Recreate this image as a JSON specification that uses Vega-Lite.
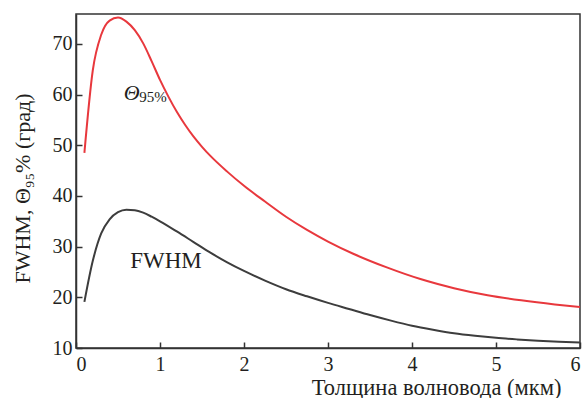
{
  "$schema": "https://vega.github.io/schema/vega-lite/v6.json",
  "width": 504,
  "height": 334,
  "autosize": {"type": "none"},
  "padding": {"left": 76, "top": 14, "right": 5, "bottom": 50},
  "background": "white",
  "config": {
    "font": "Liberation Serif",
    "view": {"stroke": "#333333", "strokeWidth": 1.5},
    "axis": {"labelFont": "Liberation Serif", "titleFont": "Liberation Serif"},
    "text": {"font": "Liberation Serif"}
  },
  "datasets": {
    "curves": [
      {"s": "theta", "x": 0.1, "y": 48.5},
      {"s": "theta", "x": 0.2, "y": 64.8},
      {"s": "theta", "x": 0.3, "y": 71.8},
      {"s": "theta", "x": 0.4, "y": 74.6},
      {"s": "theta", "x": 0.5, "y": 75.2},
      {"s": "theta", "x": 0.6, "y": 74.4},
      {"s": "theta", "x": 0.7, "y": 72.7},
      {"s": "theta", "x": 0.8, "y": 70.1},
      {"s": "theta", "x": 0.9, "y": 66.6},
      {"s": "theta", "x": 1.0, "y": 62.9},
      {"s": "theta", "x": 1.1, "y": 59.6},
      {"s": "theta", "x": 1.2, "y": 56.6},
      {"s": "theta", "x": 1.3, "y": 54.0},
      {"s": "theta", "x": 1.4, "y": 51.7},
      {"s": "theta", "x": 1.5, "y": 49.7},
      {"s": "theta", "x": 1.6, "y": 47.9},
      {"s": "theta", "x": 1.8, "y": 44.8},
      {"s": "theta", "x": 2.0, "y": 42.0},
      {"s": "theta", "x": 2.25, "y": 38.9},
      {"s": "theta", "x": 2.5, "y": 35.9},
      {"s": "theta", "x": 2.75, "y": 33.3},
      {"s": "theta", "x": 3.0, "y": 31.0},
      {"s": "theta", "x": 3.3, "y": 28.6},
      {"s": "theta", "x": 3.7, "y": 25.9},
      {"s": "theta", "x": 4.1, "y": 23.6},
      {"s": "theta", "x": 4.5, "y": 21.8},
      {"s": "theta", "x": 4.9, "y": 20.4},
      {"s": "theta", "x": 5.3, "y": 19.4},
      {"s": "theta", "x": 5.7, "y": 18.6},
      {"s": "theta", "x": 6.0, "y": 18.1},
      {"s": "fwhm", "x": 0.1, "y": 19.1},
      {"s": "fwhm", "x": 0.2, "y": 27.2},
      {"s": "fwhm", "x": 0.3, "y": 32.6},
      {"s": "fwhm", "x": 0.4, "y": 35.4},
      {"s": "fwhm", "x": 0.5, "y": 36.8},
      {"s": "fwhm", "x": 0.6, "y": 37.3},
      {"s": "fwhm", "x": 0.7, "y": 37.2},
      {"s": "fwhm", "x": 0.8, "y": 36.7},
      {"s": "fwhm", "x": 0.9, "y": 35.9},
      {"s": "fwhm", "x": 1.0, "y": 35.0},
      {"s": "fwhm", "x": 1.2, "y": 33.0},
      {"s": "fwhm", "x": 1.4, "y": 30.9},
      {"s": "fwhm", "x": 1.6, "y": 28.8},
      {"s": "fwhm", "x": 1.8, "y": 26.9},
      {"s": "fwhm", "x": 2.0, "y": 25.2},
      {"s": "fwhm", "x": 2.25, "y": 23.3},
      {"s": "fwhm", "x": 2.5, "y": 21.6},
      {"s": "fwhm", "x": 2.75, "y": 20.2},
      {"s": "fwhm", "x": 3.0, "y": 18.9},
      {"s": "fwhm", "x": 3.25, "y": 17.7},
      {"s": "fwhm", "x": 3.5, "y": 16.5},
      {"s": "fwhm", "x": 3.75, "y": 15.4},
      {"s": "fwhm", "x": 4.0, "y": 14.4},
      {"s": "fwhm", "x": 4.25, "y": 13.6},
      {"s": "fwhm", "x": 4.5, "y": 12.9},
      {"s": "fwhm", "x": 4.75, "y": 12.4},
      {"s": "fwhm", "x": 5.0, "y": 12.0},
      {"s": "fwhm", "x": 5.25, "y": 11.7},
      {"s": "fwhm", "x": 5.5, "y": 11.45},
      {"s": "fwhm", "x": 5.75, "y": 11.25},
      {"s": "fwhm", "x": 6.0, "y": 11.1}
    ],
    "labels": [
      {"t": "Θ", "x": 0.567, "y": 58.9, "kind": "theta"},
      {"t": "95%", "x": 0.754, "y": 58.5, "kind": "sub"},
      {"t": "FWHM", "x": 0.646, "y": 25.7, "kind": "fwhm"}
    ]
  },
  "layer": [
    {
      "data": {"name": "curves"},
      "mark": {"type": "line", "strokeWidth": 2, "interpolate": "monotone"},
      "encoding": {
        "x": {
          "field": "x", "type": "quantitative",
          "scale": {"domain": [0, 6], "nice": false},
          "axis": {
            "values": [0, 1, 2, 3, 4, 5, 6],
            "format": "d",
            "grid": false,
            "domainColor": "#333333", "domainWidth": 1.5,
            "tickColor": "#333333", "tickWidth": 1.5, "tickSize": -6,
            "labelFontSize": 20, "labelColor": "#231f20", "labelPadding": 12,
            "title": "Толщина волновода (мкм)",
            "titleFontSize": 22.5, "titleFontWeight": "normal", "titleColor": "#231f20",
            "titleX": 485, "titleY": 46, "titleAlign": "right", "titleBaseline": "alphabetic"
          }
        },
        "y": {
          "field": "y", "type": "quantitative",
          "scale": {"domain": [10, 75.9], "nice": false},
          "axis": {
            "values": [10, 20, 30, 40, 50, 60, 70],
            "format": "d",
            "grid": false,
            "domainColor": "#333333", "domainWidth": 1.5,
            "tickColor": "#333333", "tickWidth": 1.5, "tickSize": -6,
            "labelFontSize": 20, "labelColor": "#231f20", "labelPadding": 10,
            "title": "FWHM, Θ₉₅% (град)",
            "titleFontSize": 22, "titleFontWeight": "normal", "titleColor": "#231f20",
            "titleX": -47, "titleY": 174, "titleAngle": 270, "titleAlign": "center", "titleBaseline": "alphabetic"
          }
        },
        "color": {
          "field": "s", "type": "nominal",
          "scale": {"domain": ["theta", "fwhm"], "range": ["#e8383d", "#3d3d3d"]},
          "legend": null
        }
      }
    },
    {
      "data": {"name": "labels"},
      "transform": [{"filter": "datum.kind === 'theta'"}],
      "mark": {"type": "text", "align": "left", "baseline": "alphabetic", "color": "#231f20", "fontSize": 22, "fontStyle": "italic", "font": "Liberation Serif"},
      "encoding": {
        "x": {"field": "x", "type": "quantitative"},
        "y": {"field": "y", "type": "quantitative"},
        "text": {"field": "t"}
      }
    },
    {
      "data": {"name": "labels"},
      "transform": [{"filter": "datum.kind === 'sub'"}],
      "mark": {"type": "text", "align": "left", "baseline": "alphabetic", "color": "#231f20", "fontSize": 15, "font": "Liberation Serif"},
      "encoding": {
        "x": {"field": "x", "type": "quantitative"},
        "y": {"field": "y", "type": "quantitative"},
        "text": {"field": "t"}
      }
    },
    {
      "data": {"name": "labels"},
      "transform": [{"filter": "datum.kind === 'fwhm'"}],
      "mark": {"type": "text", "align": "left", "baseline": "alphabetic", "color": "#231f20", "fontSize": 23, "font": "Liberation Serif"},
      "encoding": {
        "x": {"field": "x", "type": "quantitative"},
        "y": {"field": "y", "type": "quantitative"},
        "text": {"field": "t"}
      }
    }
  ]
}
